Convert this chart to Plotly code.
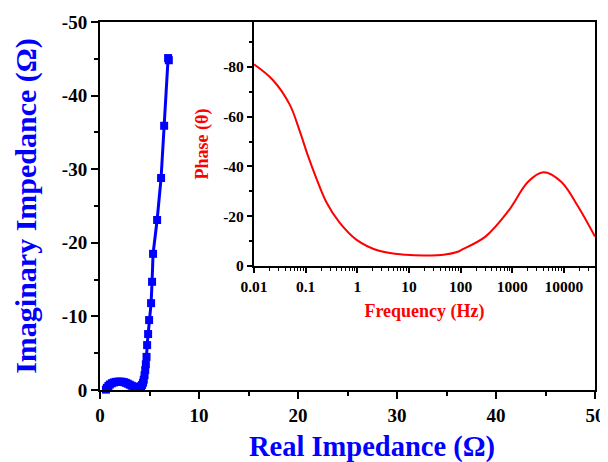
import plotly.graph_objects as go

# Nyquist data (Real, Imaginary impedance, ohm)
z_real = [0.6, 0.7, 0.85, 1.0, 1.2, 1.4, 1.6, 1.8, 2.0, 2.2, 2.4, 2.6, 2.8, 3.0, 3.2, 3.4,
          3.6, 3.8, 4.0, 4.15, 4.25, 4.35, 4.42, 4.5, 4.57, 4.63, 4.7, 4.76, 4.86, 4.96,
          5.16, 5.26, 5.36, 5.77, 6.17, 6.48, 6.88, 6.95]
z_imag = [-0.05, -0.3, -0.55, -0.75, -0.92, -1.03, -1.1, -1.13, -1.14, -1.12, -1.07, -0.98,
          -0.86, -0.72, -0.58, -0.47, -0.4, -0.38, -0.4, -0.5, -0.7, -1.0, -1.4, -2.0, -2.7,
          -3.5, -4.5, -6.1, -7.6, -9.5, -11.8, -14.7, -18.5, -23.1, -28.8, -35.9, -45.1, -44.8]

# Bode phase data
freq = [0.01, 0.0232, 0.049, 0.0767, 0.11, 0.162, 0.251, 0.447, 0.955, 2.63, 8.7, 21.4,
        50.0, 91.0, 100.0, 302.0, 832.0, 2040.0, 3980.0, 8710.0, 18600.0, 39800.0]
phase = [-81.0, -74.7, -64.9, -54.3, -44.5, -35.1, -25.7, -17.6, -10.6, -6.1, -4.5, -4.2,
         -4.6, -5.8, -6.3, -11.8, -22.0, -33.9, -37.6, -33.9, -24.0, -11.8]

x_ticks = [0, 10, 20, 30, 40, 50]
y_ticks = [0, -10, -20, -30, -40, -50]
y_labels = ["0", "-10", "-20", "-30", "-40", "-50"]
f_ticks = [0.01, 0.1, 1, 10, 100, 1000, 10000]
f_labels = ["0.01", "0.1", "1", "10", "100", "1000", "10000"]
f_minor = [m * 10 ** e for e in range(-2, 5) for m in range(2, 10)]
p_ticks = [0, -20, -40, -60, -80]
p_labels = ["0", "-20", "-40", "-60", "-80"]

SERIF = "Liberation Serif"
BLUE = "#0000FF"
RED = "#FF0000"

fig = go.Figure()
fig.add_trace(go.Scatter(x=z_real, y=z_imag, mode="lines+markers",
                         line=dict(color=BLUE, width=3),
                         marker=dict(symbol="square", size=8, color=BLUE),
                         cliponaxis=False, xaxis="x", yaxis="y", showlegend=False))
fig.add_trace(go.Scatter(x=freq, y=phase, mode="lines", line=dict(color=RED, width=2, shape="spline"),
                         xaxis="x2", yaxis="y2", showlegend=False))

axis_common = dict(showline=True, linecolor="black", linewidth=2, mirror=True,
                   showgrid=False, zeroline=False, ticks="outside", tickcolor="black",
                   tickwidth=2, automargin=False)

fig.update_layout(
    width=600, height=454,
    margin=dict(l=92, r=13, t=14, b=72),
    paper_bgcolor="white", plot_bgcolor="white",
    xaxis=dict(**axis_common, domain=[0, 1], range=[0, 50], tickvals=x_ticks, ticklen=7,
               minor=dict(ticks="outside", ticklen=4, tickwidth=2, tickcolor="black", dtick=5),
               tickfont=dict(family=SERIF, size=19, color="black", weight="bold")),
    yaxis=dict(**axis_common, domain=[0, 1], range=[0, -50], tickvals=y_ticks, ticktext=y_labels,
               ticklen=7,
               minor=dict(ticks="outside", ticklen=4, tickwidth=2, tickcolor="black", dtick=5),
               tickfont=dict(family=SERIF, size=19, color="black", weight="bold"),
               title=dict(text="Imaginary Impedance (Ω)", standoff=16,
                          font=dict(family=SERIF, size=30, color=BLUE, weight="bold"))),
    xaxis2=dict(**axis_common, domain=[0.311, 1.0], anchor="y2", type="log", range=[-2, 4.6],
                tickvals=f_ticks, ticktext=f_labels, ticklen=5,
                minor=dict(ticks="outside", ticklen=3, tickwidth=1, tickcolor="black",
                           tickvals=f_minor),
                tickfont=dict(family=SERIF, size=15.5, color="black", weight="bold"),
                title=dict(text="Frequency (Hz)", standoff=11,
                           font=dict(family=SERIF, size=18, color=RED, weight="bold"))),
    yaxis2=dict(**axis_common, domain=[0.337, 1.0], anchor="x2", range=[0, -98],
                tickvals=p_ticks, ticktext=p_labels, ticklen=5,
                minor=dict(ticks="outside", ticklen=3, tickwidth=2, tickcolor="black", dtick=10),
                tickfont=dict(family=SERIF, size=15.5, color="black", weight="bold"),
                title=dict(text="Phase (θ)", standoff=10,
                           font=dict(family=SERIF, size=18, color=RED, weight="bold"))),
    annotations=[dict(text="Real Impedance (Ω)", xref="paper", yref="paper", x=0.549, y=0,
                      xanchor="center", yanchor="middle", yshift=-57, showarrow=False,
                      font=dict(family=SERIF, size=28.5, color=BLUE, weight="bold"))],
)

fig.write_html("out.html")
